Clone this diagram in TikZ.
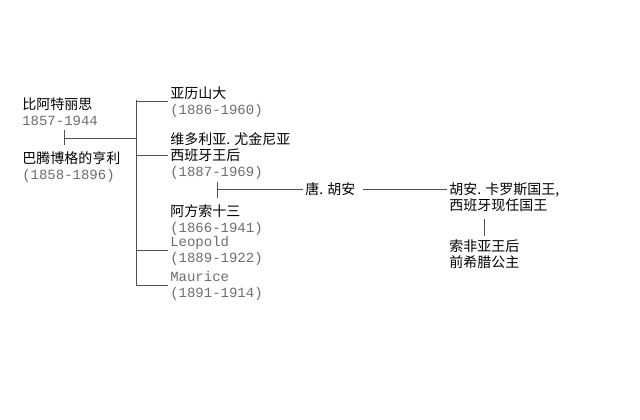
\documentclass[tikz,border=0pt]{standalone}
\usepackage{fontspec}
\setmainfont{Noto Sans CJK SC}
\newfontfamily\datefont{Liberation Mono}
\usepackage{tikz}
\usetikzlibrary{positioning,calc}
\definecolor{dategray}{HTML}{6E6E6E}
\definecolor{linegray}{HTML}{505050}
\newcommand{\yrs}[1]{{\datefont\color{dategray}#1}}

\begin{document}
\begin{tikzpicture}[
    x=0.75pt, y=-0.75pt,
    person/.style={anchor=north west, inner sep=1.5pt, align=left, font=\fontsize{10.5}{12}\selectfont},
    link/.style={draw=linegray, line width=0.75pt}
]
    \useasboundingbox[fill=white] (0,0) rectangle (640,419);

    % parents
    \node[person] (beatrice) at (20,95) {比阿特丽思\\\yrs{1857-1944}};
    \node[person] (henry) at (20,149) {巴腾博格的亨利\\\yrs{(1858-1896)}};

    % children
    \node[person] (alexander) at (168,84) {亚历山大\\\yrs{(1886-1960)}};
    \node[person] (victoria) at (168,130) {维多利亚. 尤金尼亚\\西班牙王后\\\yrs{(1887-1969)}};
    \node[person] (alfonso) at (168,202) {阿方索十三\\\yrs{(1866-1941)}};
    \node[person] (leopold) at (168,234) {\yrs{Leopold}\\\yrs{(1889-1922)}};
    \node[person] (maurice) at (168,269) {\yrs{Maurice}\\\yrs{(1891-1914)}};

    % grandson and after
    \node[person, anchor=west] (donjuan) at (303,189) {唐. 胡安};
    \node[person] (juancarlos) at (447,180) {胡安. 卡罗斯国王,\\西班牙现任国王};
    \node[person] (sofia) at (447,237) {索非亚王后\\前希腊公主};

    \coordinate (couple) at (64,138);
    \coordinate (trunk) at (136,100);
    \coordinate (couple2) at (217,189);
    \coordinate (couple3) at (484,228);

    \draw[link] (couple |- 0,130) -- (couple |- 0,145);
    \draw[link] (couple) -- (couple -| trunk);
    \draw[link] (trunk) -- (trunk |- maurice.west);
    \draw[link] (alexander.west -| trunk) -- (alexander.west);
    \draw[link] (victoria.west -| trunk) -- (victoria.west);
    \draw[link] (leopold.west -| trunk) -- (leopold.west);
    \draw[link] (maurice.west -| trunk) -- (maurice.west);

    \draw[link] (couple2 |- 0,182) -- (couple2 |- 0,198);
    \draw[link] (couple2) -- (donjuan.west);
    \draw[link] ([xshift=4pt]donjuan.east) -- (donjuan.east -| juancarlos.west);

    \draw[link] (couple3 |- 0,219) -- (couple3 |- 0,236);
\end{tikzpicture}
\end{document}
